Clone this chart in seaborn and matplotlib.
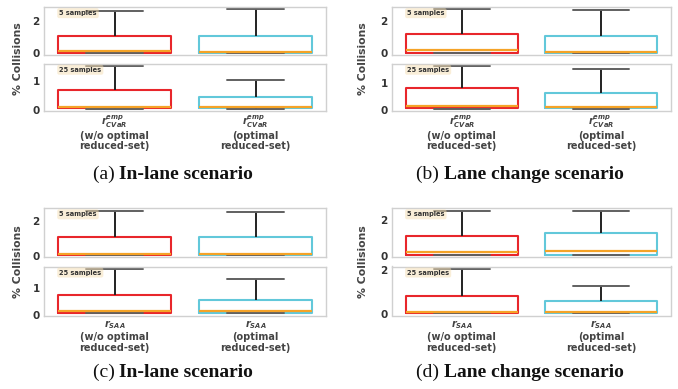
import numpy as np
import pandas as pd
import matplotlib
matplotlib.use("Agg")
import matplotlib.pyplot as plt
import seaborn as sns

# ---------------- data (min, q1, median, q3, max) ----------------
methods = ["w/o", "opt"]
# panel (a) In-lane, CVaR
a_5_wo = [0.03, 0.05, 0.12, 1.09, 2.61]
a_5_opt = [0.03, 0.05, 0.11, 1.09, 2.69]
a_25_wo = [0.05, 0.07, 0.12, 0.68, 1.51]
a_25_opt = [0.05, 0.07, 0.12, 0.44, 1.02]
# panel (b) Lane change, CVaR
b_5_wo = [0.03, 0.05, 0.19, 1.18, 2.74]
b_5_opt = [0.03, 0.05, 0.10, 1.11, 2.72]
b_25_wo = [0.05, 0.07, 0.13, 0.80, 1.60]
b_25_opt = [0.05, 0.07, 0.11, 0.61, 1.50]
# panel (c) In-lane, SAA
c_5_wo = [0.03, 0.05, 0.12, 1.10, 2.63]
c_5_opt = [0.03, 0.05, 0.12, 1.10, 2.54]
c_25_wo = [0.05, 0.07, 0.15, 0.73, 1.70]
c_25_opt = [0.05, 0.07, 0.15, 0.56, 1.33]
# panel (d) Lane change, SAA
d_5_wo = [0.03, 0.05, 0.20, 1.08, 2.51]
d_5_opt = [0.03, 0.05, 0.24, 1.27, 2.51]
d_25_wo = [0.05, 0.07, 0.11, 0.85, 2.08]
d_25_opt = [0.05, 0.07, 0.11, 0.60, 1.31]

sample_labels = ["5 samples", "25 samples"]
yticks_a = ([0, 2], [0, 1])
yticks_b = ([0, 2], [0, 1])
yticks_c = ([0, 2], [0, 1])
yticks_d = ([0, 2], [0, 2])

cvar_ticklabels = [r"$\mathbfit{r^{emp}_{CVaR}}$" + "\n(w/o optimal\nreduced-set)",
                   r"$\mathbfit{r^{emp}_{CVaR}}$" + "\n(optimal\nreduced-set)"]
saa_ticklabels = [r"$\mathbfit{r_{SAA}}$" + "\n(w/o optimal\nreduced-set)",
                  r"$\mathbfit{r_{SAA}}$" + "\n(optimal\nreduced-set)"]

captions = [("(a)", "In-lane scenario"), ("(b)", "Lane change scenario"),
            ("(c)", "In-lane scenario"), ("(d)", "Lane change scenario")]

# ---------------- style ----------------
sns.set_theme(style="white")
plt.rcParams.update({
    "axes.edgecolor": "#cfcfcf",
    "axes.linewidth": 1.0,
    "font.weight": "bold",
    "xtick.color": "#333333",
    "ytick.color": "#333333",
})
plt.rcParams["font.family"] = ["DejaVu Sans"]

RED = "#e8262b"
CYAN = "#62c8da"
ORANGE = "#f5a327"

fig = plt.figure(figsize=(6.78, 3.89), dpi=100)

W = 678.0
H = 389.0

panels = [
    dict(data=[(a_5_wo, a_5_opt), (a_25_wo, a_25_opt)], yt=yticks_a, xl=cvar_ticklabels,
         left=44, right=326, rows=[(7.3, 55.0), (64.0, 110.7)], ylab=(18, 59), cap=(173, 179)),
    dict(data=[(b_5_wo, b_5_opt), (b_25_wo, b_25_opt)], yt=yticks_b, xl=cvar_ticklabels,
         left=392, right=671, rows=[(7.3, 55.0), (64.0, 110.7)], ylab=(363, 59), cap=(520, 179)),
    dict(data=[(c_5_wo, c_5_opt), (c_25_wo, c_25_opt)], yt=yticks_c, xl=saa_ticklabels,
         left=44, right=326, rows=[(208.3, 257.3), (266.5, 315.5)], ylab=(18, 262), cap=(173, 377)),
    dict(data=[(d_5_wo, d_5_opt), (d_25_wo, d_25_opt)], yt=yticks_d, xl=saa_ticklabels,
         left=392, right=671, rows=[(208.3, 257.3), (266.5, 315.5)], ylab=(363, 262), cap=(520, 377)),
]

renderer = fig.canvas.get_renderer()

for pi, p in enumerate(panels):
    for ri, (top, bot) in enumerate(p["rows"]):
        ax = fig.add_axes([p["left"] / W, 1 - bot / H, (p["right"] - p["left"]) / W, (bot - top) / H])
        wo, opt = p["data"][ri]
        df = pd.DataFrame({
            "method": [methods[0]] * len(wo) + [methods[1]] * len(opt),
            "value": list(wo) + list(opt),
        })
        sns.boxplot(data=df, x="method", y="value", hue="method", order=methods,
                    hue_order=methods, palette=[RED, CYAN], fill=False, whis=(0, 100),
                    width=0.8, linewidth=1.5, legend=False, ax=ax,
                    medianprops=dict(color=ORANGE, linewidth=1.6),
                    whiskerprops=dict(color="#222222", linewidth=1.4),
                    capprops=dict(color="#606060", linewidth=1.4))
        ax.set_xlim(-0.5, 1.5)
        ax.set_yticks(p["yt"][ri])
        ax.tick_params(axis="y", length=0, labelsize=7.5, pad=3)
        ax.tick_params(axis="x", length=0, labelsize=7, pad=2)
        for lab in ax.get_yticklabels():
            lab.set_fontweight("bold")
        ax.set_xlabel("")
        ax.set_ylabel("")
        ax.set_xticks([0, 1])
        if ri == 0:
            ax.set_xticklabels([])
        else:
            ax.set_xticklabels(p["xl"], fontsize=7, fontweight="bold", color="#444444",
                               linespacing=1.1)
        for s in ax.spines.values():
            s.set_color("#d0d0d0")
        ax.text(0.054, 0.877, sample_labels[ri], transform=ax.transAxes, fontsize=4.8,
                fontweight="bold", color="#333333", va="center", ha="left",
                bbox=dict(boxstyle="round,pad=0.3", facecolor="wheat", alpha=0.5, edgecolor="none"))

    # shared y label
    fig.text(p["ylab"][0] / W, 1 - p["ylab"][1] / H, "% Collisions", rotation=90,
             ha="center", va="center", fontsize=7.8, fontweight="bold", color="#444444")

    # caption
    c1, c2 = captions[pi]
    t1 = fig.text(0, 0, c1 + " ", family="Liberation Serif", fontsize=14,
                  fontweight="normal", color="#111111", va="baseline", ha="left")
    t2 = fig.text(0, 0, c2, family="Liberation Serif", fontsize=14,
                  fontweight="bold", color="#111111", va="baseline", ha="left")
    w1 = t1.get_window_extent(renderer).width
    w2 = t2.get_window_extent(renderer).width
    cx, cy = p["cap"]
    x0 = cx - (w1 + w2) / 2.0
    yb = 1 - cy / H
    t1.set_position((x0 / W, yb))
    t2.set_position(((x0 + w1) / W, yb))

fig.savefig("out.png", dpi=100)
